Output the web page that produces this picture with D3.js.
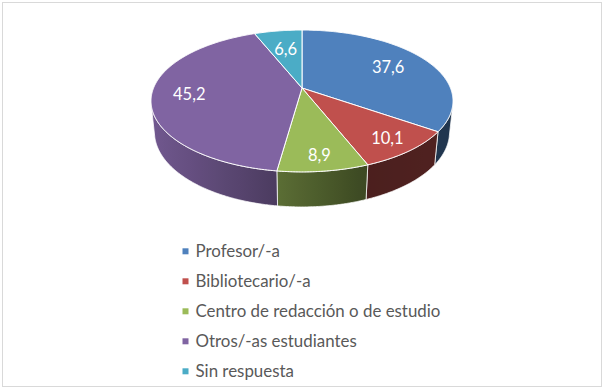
<!DOCTYPE html>
<html><head><meta charset="utf-8">
<script src="https://cdn.jsdelivr.net/npm/d3@7"></script>
<style>html,body{margin:0;padding:0;background:#fff}svg{display:block}</style>
</head><body><svg id="chart" width="604" height="389"></svg>
<script>
// ---- data ----
const categories = ["Profesor/-a", "Bibliotecario/-a", "Centro de redacción o de estudio", "Otros/-as estudiantes", "Sin respuesta"];
const values = [37.6, 10.1, 8.9, 45.2, 6.6];
const valueLabels = ["37,6", "10,1", "8,9", "45,2", "6,6"];
const colors = ["#4f81bd", "#c0504d", "#9bbb59", "#8064a2", "#4bacc6"];

const svg = d3.select("#chart");
const defs = svg.append("defs");
const FONT = "Lato, 'Open Sans', sans-serif";

// frame
svg.append("rect").attr("x", 2.5).attr("y", 2.5).attr("width", 599).attr("height", 384)
  .attr("fill", "#fff").attr("stroke", "#d9d9d9").attr("stroke-width", 1);

// ---- 3D perspective projection of the pie ----
const cx = 302, cy = 88, F = 720, dist = 4.85, phi = 27.5 * Math.PI / 180, H = 0.238;
const sinP = Math.sin(phi), cosP = Math.cos(phi);
function project(x, y, h) { // x right, y toward viewer, h up (<=0 is below top face)
  const z = dist - y * cosP - h * sinP;
  return [cx + F * x / z, cy + F * (y * sinP - h * cosP) / z];
}
const rim = (a, r, h) => project(r * Math.sin(a), -r * Math.cos(a), h);

const pie = d3.pie().sort(null).value(d => d).startAngle(0).endAngle(2 * Math.PI);
const arcs = pie(values);

// visible range of the outer cylinder wall
const yVis = 1 / (dist * cosP);
const vis0 = Math.acos(-yVis), vis1 = 2 * Math.PI - vis0;

// shading of side walls as a function of screen x
const shade = d3.scaleLinear().domain([152, 363, 453]).range([0.88, 0.39, 0.42]).clamp(true);
const darker = (c, f) => { const k = d3.rgb(c); return d3.rgb(k.r * f, k.g * f, k.b * f).formatHex(); };

const line = d3.line();
const STEP = Math.PI / 360;
function arcPts(a0, a1, h) {
  const n = Math.max(2, Math.ceil(Math.abs(a1 - a0) / STEP));
  return d3.range(n + 1).map(i => rim(a0 + (a1 - a0) * i / n, 1, h));
}

// side walls
const gSide = svg.append("g");
arcs.forEach((a, i) => {
  const s0 = Math.max(a.startAngle, vis0), s1 = Math.min(a.endAngle, vis1);
  if (s1 <= s0) return;
  const top = arcPts(s0, s1, 0), bot = arcPts(s1, s0, -H);
  const pts = top.concat(bot);
  const xs = pts.map(p => p[0]);
  const x0 = d3.min(xs), x1 = d3.max(xs);
  const gid = "side" + i;
  const grad = defs.append("linearGradient").attr("id", gid)
    .attr("gradientUnits", "userSpaceOnUse").attr("x1", x0).attr("x2", x1).attr("y1", 0).attr("y2", 0);
  d3.range(11).forEach(k => {
    const t = k / 10, X = x0 + (x1 - x0) * t;
    grad.append("stop").attr("offset", t).attr("stop-color", darker(colors[i], shade(X)));
  });
  gSide.append("path").attr("d", line(pts) + "Z")
    .attr("fill", `url(#${gid})`).attr("stroke", "#fff").attr("stroke-width", 0.75)
    .attr("stroke-linejoin", "round");
});

// top faces
const gTop = svg.append("g");
arcs.forEach((a, i) => {
  const pts = [project(0, 0, 0)].concat(arcPts(a.startAngle, a.endAngle, 0));
  gTop.append("path").attr("d", line(pts) + "Z")
    .attr("fill", colors[i]).attr("stroke", "#fff").attr("stroke-width", 1)
    .attr("stroke-linejoin", "round");
});

// data labels
const gLab = svg.append("g");
arcs.forEach((a, i) => {
  const m = (a.startAngle + a.endAngle) / 2;
  const dy = -Math.cos(m);
  const r = 0.74 + 0.1 * dy;
  const p = rim(m, r, 0);
  gLab.append("text").attr("x", p[0]).attr("y", p[1])
    .attr("text-anchor", "middle").attr("dominant-baseline", "central")
    .attr("font-family", FONT).attr("font-size", 16.5).attr("fill", "#fff")
    .text(valueLabels[i]);
});

// legend
const rowY = d3.scaleLinear().domain([0, 1]).range([248.3, 278.3]);
const gLeg = svg.append("g");
categories.forEach((c, i) => {
  gLeg.append("rect").attr("x", 182.5).attr("y", rowY(i)).attr("width", 6).attr("height", 6)
    .attr("fill", colors[i]);
  gLeg.append("text").attr("class", "leg").attr("x", 195.5).attr("y", rowY(i) + 8.6)
    .attr("font-family", FONT).attr("font-size", 16).attr("fill", "#595959").text(c);
});
// fit legend font so that the longest entry matches the reference width
const legNodes = gLeg.selectAll("text.leg").nodes();
const maxW = d3.max(legNodes, n => n.getComputedTextLength());
if (maxW > 0) {
  const fs = 16 * 245 / maxW;
  gLeg.selectAll("text.leg").attr("font-size", fs);
}
</script>
</body></html>
